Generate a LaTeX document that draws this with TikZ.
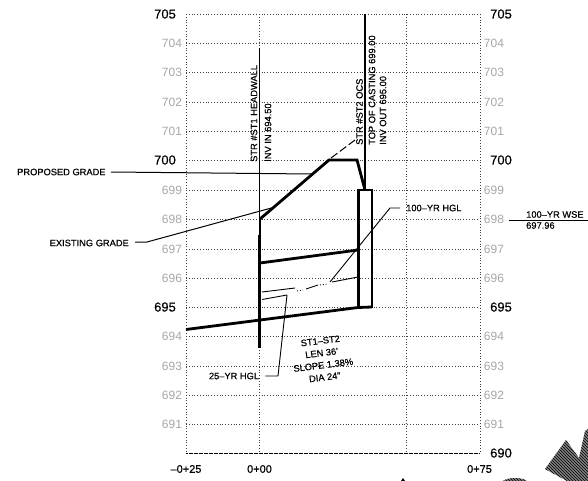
\documentclass[tikz,border=0pt]{standalone}
\usepackage{fontspec}
\setmainfont{Liberation Sans}
\newfontfamily\capfont[FakeBold=0.5,Ligatures=TeX]{Liberation Sans}
\usetikzlibrary{patterns}
\tikzset{
  gridline/.style={line width=0.8pt,dotted,black!75},
  pipeline/.style={line width=2.8pt},
  leader/.style={line width=0.9pt},
  majorlabel/.style={font=\capfont\fontsize{13}{13}\selectfont},
  minorlabel/.style={font=\fontsize{12}{12}\selectfont,text=black!35},
  caplabel/.style={font=\capfont\fontsize{9.3}{12.2}\selectfont,inner sep=0pt},
  stalabel/.style={font=\capfont\fontsize{11}{11}\selectfont,inner sep=0pt},
  hatchfill/.style={fill=black!50,postaction={pattern=north west lines}},
}
\begin{document}
\begin{tikzpicture}[x=1pt,y=-1pt]
    \useasboundingbox (0,0) rectangle (588,481);

    % Grid
    \foreach \y in {43,72.5,102,131,160,190,219,249,278,307,336.5,366,395,424}
    \draw[gridline] (186,\y) -- (480,\y);
    \draw[gridline] (186,14) -- (480,14);
    \foreach \x in {186,259.5,406,480}
    \draw[gridline] (\x,14) -- (\x,453);
    \draw[line width=0.9pt,dash pattern=on 2pt off 0.5pt] (186,453) -- (480,453);

    % Elevations
    \foreach \y/\e in {43/704,72.5/703,102/702,131/701,190/699,219/698,249/697,278/696,336.5/694,366/693,395/692,424/691} {
      \node[minorlabel] (left\e) at (172,\y) {\e};
      \node[minorlabel] (right\e) at (494,\y) {\e};
    }
    \foreach \y/\e in {14/705,160/700,307/695} {
      \node[majorlabel] (left\e) at (165,\y) {\e};
      \node[majorlabel] (right\e) at (501,\y) {\e};
    }
    \node[majorlabel] (right690) at (501,453) {690};

    % Stations
    \node[stalabel] (sta0) at (186,469) {--0+25};
    \node[stalabel] (sta1) at (259.5,469) {0+00};
    \node[stalabel] (sta2) at (479.5,469) {0+75};

    % Structures
    \draw[line width=1.2pt] (259.5,48) -- (259.5,218);
    \draw[line width=2pt] (259.5,218) -- (259.5,235);
    \draw[line width=3.4pt] (259.5,235) -- (259.5,348);
    \draw[line width=1.4pt] (365,14) -- (365,190);
    \draw[line width=2.2pt] (358.5,190) rectangle (372,307);

    % Grades
    \draw[pipeline] (260,219) -- (329,160) -- (357,160) -- (365,190);
    \draw[line width=1pt,dash pattern=on 8pt off 3pt] (331,158) -- (355,140);

    % Pipe and HGL
    \draw[pipeline] (186,329.5) -- (358,307.5) -- (372,307);
    \draw[pipeline] (260,263) -- (358,250);
    \draw[leader] (262,292) -- (295,288);
    \draw[leader] (306,289) -- (318,285);
    \draw[leader] (332,282) -- (358,277);
    \draw[leader,dotted] (297,291) -- (303,290);
    \draw[leader,dotted] (320,285) -- (328,284);
    \draw[leader] (262,299.5) -- (287,295);

    % Leaders
    \node[caplabel,anchor=west] (proposed) at (17,172) {PROPOSED GRADE};
    \coordinate (proposedend) at (311.5,174);
    \draw[line width=1pt] (proposed.east) ++(5,0) -- (proposedend);

    \node[caplabel,anchor=east] (existing) at (129,243) {EXISTING GRADE};
    \coordinate (existingend) at (275,207);
    \draw[line width=1pt] (existing.east) ++(6,-1) -- (147,242) -- (existingend);

    \node[caplabel,anchor=west] (hgl100) at (406,208) {100--YR HGL};
    \coordinate (hgl100end) at (330,282);
    \draw[leader] (hgl100.west) ++(-6,0) -- (390,208) -- (hgl100end);

    \node[caplabel] (hgl25) at (234,376) {25--YR HGL};
    \coordinate (hgl25end) at (287,295);
    \draw[leader] (hgl25.east) ++(6,0) -- (278,376) -- (hgl25end);

    \node[caplabel,anchor=south west] (wse) at (526,218) {100--YR WSE};
    \node[caplabel,anchor=north west] (wseval) at (526,222) {697.96};
    \coordinate (wsestart) at (509,220);
    \coordinate (wseend) at (588,220);
    \draw[line width=1pt] (wsestart) -- (wseend);

    % Structure notes
    \node[caplabel,rotate=90,anchor=west] (st1a) at (254,162) {STR \#ST1 HEADWALL};
    \node[caplabel,rotate=90,anchor=west] (st1b) at (268,162) {INV IN 694.50};
    \node[caplabel,rotate=90,anchor=west] (st2a) at (359.5,145) {STR \#ST2 OCS};
    \node[caplabel,rotate=90,anchor=west] (st2b) at (372,145) {TOP OF CASTING 699.00};
    \node[caplabel,rotate=90,anchor=west] (st2c) at (383,145) {INV OUT 695.00};
    \node[caplabel,rotate=7,align=center] (pipenote) at (322.5,359) {ST1--ST2\\LEN 36'\\SLOPE 1.38\%\\DIA 24"};

    % Corner marks
    \fill[hatchfill] (545,469) -- (566,440) -- (579,458) -- (585,431) -- (588,429) -- (588,481) -- (567,481) -- cycle;
    \fill[hatchfill] (503,481) .. controls (508,477) and (522,477) .. (527,481) -- cycle;
    \fill (401,481) -- (403,478) -- (405,481) -- cycle;
\end{tikzpicture}
\end{document}
